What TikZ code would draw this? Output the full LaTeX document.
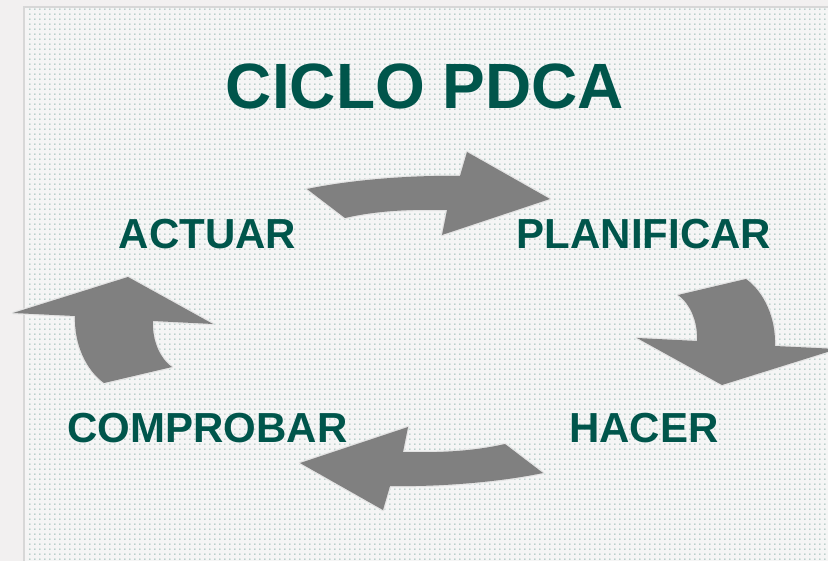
\documentclass[tikz,border=0pt]{standalone}
\usepackage{fontspec}
\setmainfont{Liberation Sans}
\usetikzlibrary{positioning,patterns}
\definecolor{pdcagreen}{RGB}{0,85,75}
\definecolor{arrowgray}{RGB}{128,128,128}
\definecolor{halogray}{RGB}{228,228,228}
\definecolor{pagegray}{RGB}{242,240,240}
\definecolor{slidegray}{RGB}{245,245,245}
\definecolor{slideedge}{RGB}{215,215,215}
\definecolor{dotgreen}{RGB}{105,155,145}
\pgfdeclarepatternformonly{slidedots}{\pgfqpoint{0pt}{0pt}}{\pgfqpoint{4.75pt}{4.75pt}}{\pgfqpoint{4.75pt}{4.75pt}}{%
  \pgfpathrectangle{\pgfqpoint{1.5pt}{1.5pt}}{\pgfqpoint{1pt}{1pt}}\pgfusepath{fill}}
\begin{document}
\begin{tikzpicture}[x=1pt,y=-1pt,node distance=436.5pt,
  stage/.style={font=\bfseries\fontsize{42}{42}\selectfont,text=pdcagreen,inner sep=0pt},
  cycle arrow/.style={fill=arrowgray,preaction={draw=halogray,line width=2.5pt,line join=round}}]
  \useasboundingbox (0,0) rectangle (828,561);
  % slide background
  \fill[pagegray] (0,0) rectangle (828,561);
  \fill[slidegray] (24,7) rectangle (840,570);
  \fill[pattern=slidedots,pattern color=dotgreen] (26,9) rectangle (840,570);
  \draw[slideedge,line width=1.5pt] (24,570) -- (24,7) -- (840,7);

  \node[font=\bfseries\fontsize{64}{64}\selectfont,text=pdcagreen,inner sep=0pt] (title) at (425,86.5) {CICLO PDCA};

  \node[stage] (act) at (207.5,234.5) {ACTUAR};
  \node[stage] (plan) [right of=act] {PLANIFICAR};
  \node[stage] (comp) [node distance=193.5pt,below of=act] {COMPROBAR};
  \node[stage] (hac) [right of=comp] {HACER};

  % curved arrows, each pair turned half round the centre
  \foreach \ang in {0,180}{
    \path[cycle arrow,rotate around={\ang:(425,331)}] (307,189) .. controls (350,180) and (410,175) .. (460,176)
      -- (467,152) -- (550,199) -- (442,235) -- (447,210) .. controls (410,209) and (375,211) .. (345,218) -- cycle;
    \path[cycle arrow,rotate around={\ang:(425,331)}] (678,295) -- (746,279) .. controls (764,292) and (776,318) .. (775,346)
      -- (837,349) -- (722,385) -- (637,338) -- (697,341) .. controls (698,325) and (692,305) .. (678,295) -- cycle;
  }
\end{tikzpicture}
\end{document}
